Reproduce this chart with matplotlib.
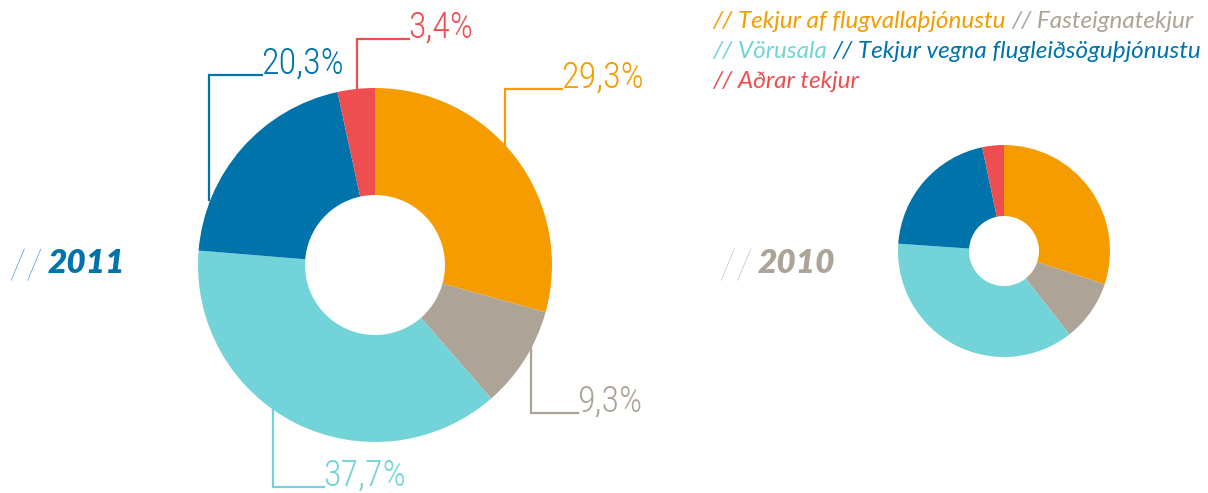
import matplotlib
matplotlib.use("Agg")
import matplotlib.pyplot as plt
from matplotlib import font_manager

# data
categories = ["Tekjur af flugvallaþjónustu", "Fasteignatekjur", "Vörusala",
              "Tekjur vegna flugleiðsöguþjónustu", "Aðrar tekjur"]
share_2011 = [29.3, 9.3, 37.7, 20.3, 3.4]
share_2010 = [30.1, 9.3, 36.7, 20.6, 3.3]
years = ["2011", "2010"]
colors = ["#F59C00", "#ADA397", "#72D4D8", "#0073AA", "#EE4E50"]

W, H = 1208, 493

installed = set(f.name for f in font_manager.fontManager.ttflist)
def pick(cands):
    for c in cands:
        if c in installed:
            return c
    return "DejaVu Sans"

cond_font = pick(["Liberation Sans Narrow", "DejaVu Sans Condensed", "Roboto Condensed", "Liberation Sans"])
leg_font = pick(["Lato", "Open Sans", "Noto Sans"])

fig = plt.figure(figsize=(W / 100, H / 100), dpi=100)
ax = fig.add_axes([0, 0, 1, 1])

def py(y):
    return H - y

# big donut 2011
ax.pie(share_2011, colors=colors, startangle=90, counterclock=False,
       center=(375, py(265)), radius=177,
       wedgeprops=dict(width=107, linewidth=0, zorder=2))

# small donut 2010
ax.pie(share_2010, colors=colors, startangle=90, counterclock=False,
       center=(1004, py(251)), radius=106,
       wedgeprops=dict(width=71, linewidth=0, zorder=2))

ax.set_xlim(0, W)
ax.set_ylim(0, H)
ax.set_aspect("equal")
ax.axis("off")

# leader lines for 2011 labels: x of vertical, y start (inside pie), y of elbow, x of end
leaders = [(505, 200, 89, 562),
           (531, 330, 413, 578),
           (273, 400, 487, 324),
           (209, 200, 75, 262),
           (357, 120, 39, 409)]
for v, c, (lx, y0, y1, x1) in zip(share_2011, colors, leaders):
    ax.plot([lx, lx, x1], [py(y0), py(y1), py(y1)], color=c, lw=1.6, zorder=1,
            solid_joinstyle="miter")
    lab = f"{v:.1f}".replace(".", ",") + "%"
    ax.text(x1 - 1, py(y1) + 1, lab, color=c, fontsize=26, family=cond_font,
            fontweight="light", ha="left", va="baseline")

# year labels
for yr, (x, y), c in zip(years, [(8, 273), (718, 273)], [colors[3], colors[1]]):
    ax.text(x, py(y) - 6, "//", color=c, fontsize=30, family=leg_font,
            fontweight="light", ha="left", va="baseline")
    ax.text(x + 40, py(y), yr, color=c, fontsize=24, family=leg_font,
            fontweight="heavy", style="italic", ha="left", va="baseline")

# legend
rows = [[0, 1], [2, 3], [4]]
for r, idx in enumerate(rows):
    prev = None
    for i in idx:
        txt = "// " + categories[i]
        if prev is None:
            prev = ax.text(712, py(28 + r * 30), txt, color=colors[i], fontsize=17.5,
                           family=leg_font, style="italic",
                           ha="left", va="baseline")
        else:
            prev = ax.annotate(txt, xy=(1, 0), xycoords=prev, xytext=(4, 0),
                               textcoords="offset points", color=colors[i],
                               fontsize=17.5, family=leg_font, style="italic",
                               ha="left", va="bottom")

fig.savefig("out.png", dpi=100)
